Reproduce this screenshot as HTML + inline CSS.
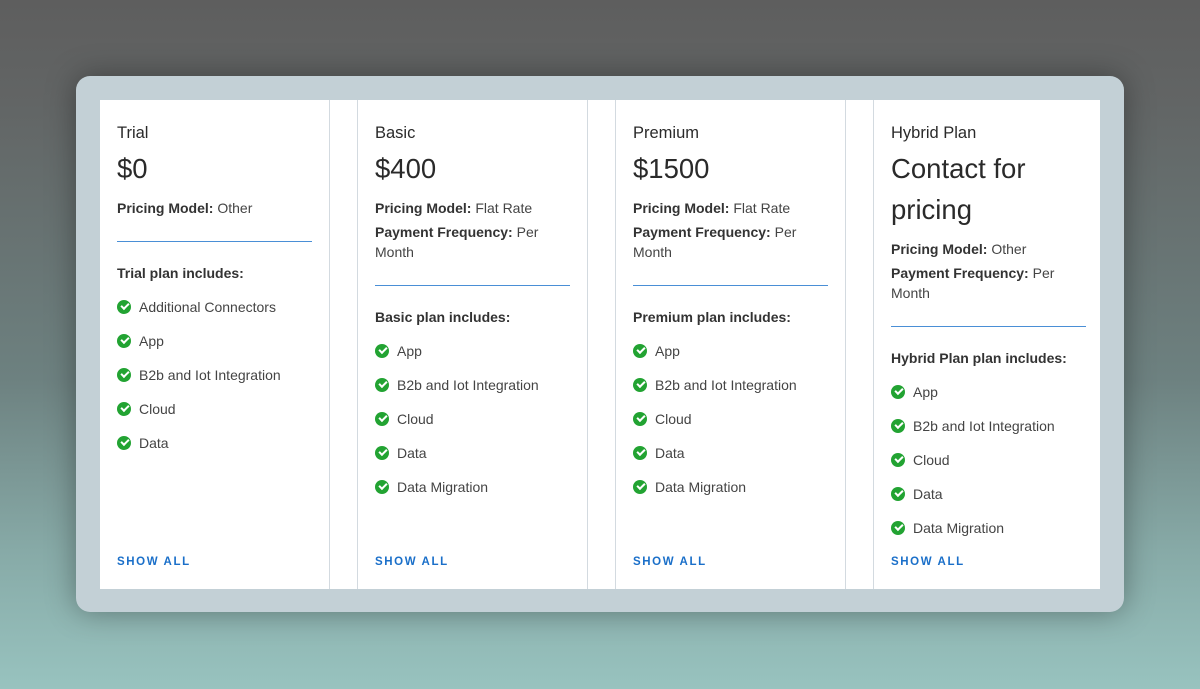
<!DOCTYPE html>
<html><head><style>
*{margin:0;padding:0;box-sizing:border-box}
body{width:1200px;height:689px;overflow:hidden;position:relative;font-family:"Liberation Sans",sans-serif;background:linear-gradient(to bottom,#5e5e5e 0%,#626565 15%,#6d8180 55%,#87aaa7 80%,#98c3bf 100%);}
.panel{position:absolute;left:76px;top:76px;width:1048px;height:536px;background:#c3d0d6;border-radius:14px;box-shadow:0 0 30px rgba(0,0,0,.35)}
.white{position:absolute;left:100px;top:100px;width:1000px;height:489px;background:#fff}
.vl{position:absolute;top:100px;height:489px;width:1px;background:#d3dae0}
.card{position:absolute;top:101px;height:488px;padding:22px 0 0 17px;color:#333}
.t{font-size:16.5px;line-height:20px;color:#2a2a2a}
.p{font-size:27.5px;line-height:41px;margin-top:5px;color:#2a2a2a}
.m{font-size:14px;line-height:20px;color:#444;margin-top:4px}
.m b{color:#333}
.m.f{margin-top:9px}
.d{height:1px;background:#4a8fd6;margin-top:23px;width:195px}
.h{font-size:14px;font-weight:bold;line-height:20px;margin-top:21px;color:#333}
.i{font-size:14px;line-height:20px;margin-top:14px;color:#444;position:relative;padding-left:22px}
.i::before{content:"";position:absolute;left:0;top:3px;width:14px;height:14px;border-radius:50%;background:#22a332}
.i::after{content:"";position:absolute;left:4px;top:6px;width:6px;height:3px;border-left:2px solid #fff;border-bottom:2px solid #fff;transform:rotate(-45deg)}
.s{position:absolute;top:455px;left:17px;font-size:11.5px;font-weight:bold;letter-spacing:1.6px;color:#1a6fc9}
</style></head><body>
<div class="panel"></div>
<div class="white"></div>
<div class="vl" style="left:329px"></div><div class="vl" style="left:357px"></div>
<div class="vl" style="left:587px"></div><div class="vl" style="left:615px"></div>
<div class="vl" style="left:845px"></div><div class="vl" style="left:873px"></div>

<div class="card" style="left:100px;width:229px">
<div class="t">Trial</div><div class="p">$0</div>
<div class="m f"><b>Pricing Model:</b> Other</div>
<div class="d"></div>
<div class="h">Trial plan includes:</div>
<div class="i">Additional Connectors</div><div class="i">App</div><div class="i">B2b and Iot Integration</div><div class="i">Cloud</div><div class="i">Data</div>
<div class="s">SHOW ALL</div></div>

<div class="card" style="left:358px;width:229px">
<div class="t">Basic</div><div class="p">$400</div>
<div class="m f"><b>Pricing Model:</b> Flat Rate</div>
<div class="m"><b>Payment Frequency:</b> Per<br>Month</div>
<div class="d"></div>
<div class="h">Basic plan includes:</div>
<div class="i">App</div><div class="i">B2b and Iot Integration</div><div class="i">Cloud</div><div class="i">Data</div><div class="i">Data Migration</div>
<div class="s">SHOW ALL</div></div>

<div class="card" style="left:616px;width:229px">
<div class="t">Premium</div><div class="p">$1500</div>
<div class="m f"><b>Pricing Model:</b> Flat Rate</div>
<div class="m"><b>Payment Frequency:</b> Per<br>Month</div>
<div class="d"></div>
<div class="h">Premium plan includes:</div>
<div class="i">App</div><div class="i">B2b and Iot Integration</div><div class="i">Cloud</div><div class="i">Data</div><div class="i">Data Migration</div>
<div class="s">SHOW ALL</div></div>

<div class="card" style="left:874px;width:226px">
<div class="t">Hybrid Plan</div><div class="p">Contact for<br>pricing</div>
<div class="m f"><b>Pricing Model:</b> Other</div>
<div class="m"><b>Payment Frequency:</b> Per<br>Month</div>
<div class="d"></div>
<div class="h">Hybrid Plan plan includes:</div>
<div class="i">App</div><div class="i">B2b and Iot Integration</div><div class="i">Cloud</div><div class="i">Data</div><div class="i">Data Migration</div>
<div class="s">SHOW ALL</div></div>
</body></html>
